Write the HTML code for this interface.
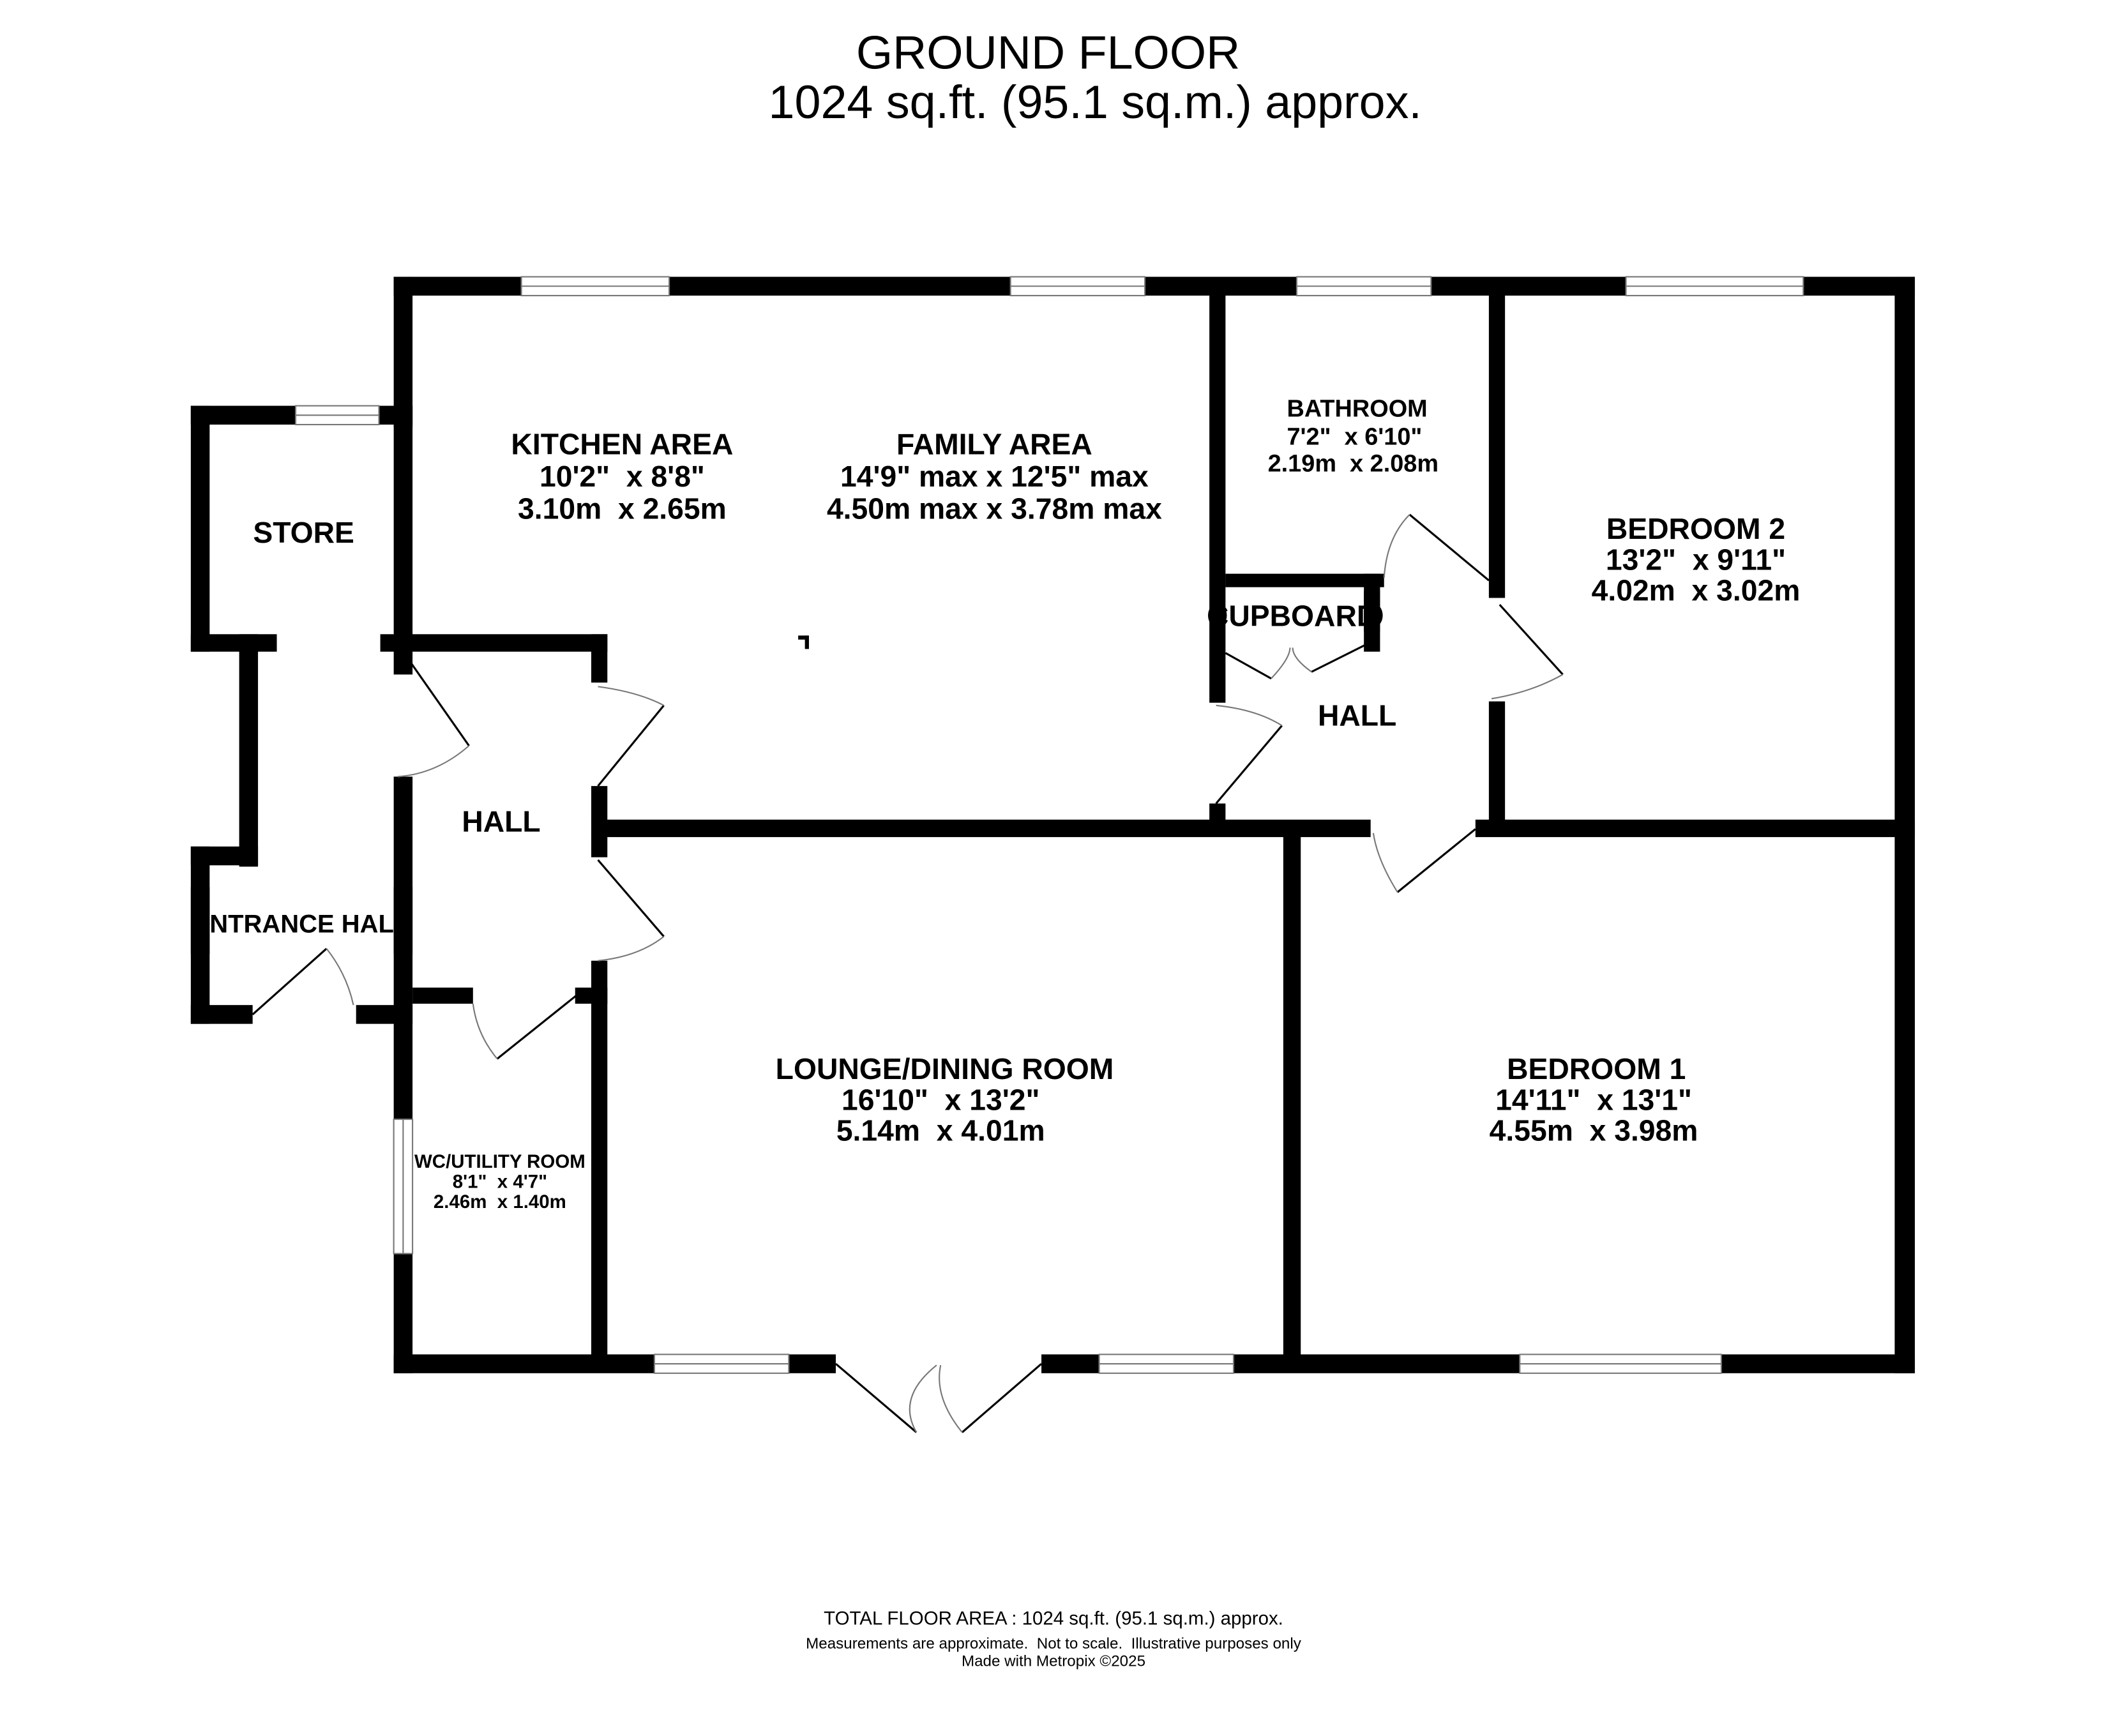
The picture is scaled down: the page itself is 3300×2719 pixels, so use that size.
<!DOCTYPE html>
<html><head><meta charset="utf-8"><style>html,body{margin:0;padding:0;background:#fff}svg{display:block}text{white-space:pre}</style></head><body>
<svg width="3300" height="2719" viewBox="0 0 1568 1292" preserveAspectRatio="none" xmlns="http://www.w3.org/2000/svg" font-family="Liberation Sans, sans-serif">
<rect width="1568" height="1292" fill="#fff"/>
<g fill="#000">
<rect x="293" y="206" width="1132" height="14"/>
<rect x="293" y="206" width="14" height="112"/>
<rect x="142" y="302" width="165" height="14"/>
<rect x="142" y="302" width="14" height="183"/>
<rect x="142" y="472" width="64" height="13"/>
<rect x="178" y="472" width="14" height="173"/>
<rect x="142" y="630" width="50" height="14"/>
<rect x="142" y="630" width="14" height="132"/>
<rect x="142" y="748" width="46" height="14"/>
<rect x="265" y="748" width="42" height="14"/>
<rect x="293" y="302" width="14" height="200"/>
<rect x="283" y="472" width="169" height="13"/>
<rect x="440" y="472" width="12" height="36"/>
<rect x="293" y="578" width="14" height="444"/>
<rect x="440" y="585" width="12" height="53"/>
<rect x="440" y="715" width="12" height="295"/>
<rect x="307" y="735" width="45" height="12"/>
<rect x="428" y="735" width="24" height="12"/>
<rect x="440" y="610" width="580" height="13"/>
<rect x="1098" y="610" width="327" height="13"/>
<rect x="955" y="620" width="13" height="390"/>
<rect x="293" y="1008" width="329" height="14"/>
<rect x="775" y="1008" width="650" height="14"/>
<rect x="1410" y="206" width="15" height="816"/>
<rect x="900" y="220" width="12" height="303"/>
<rect x="900" y="598" width="12" height="22"/>
<rect x="1108" y="220" width="12" height="225"/>
<rect x="1108" y="522" width="12" height="98"/>
<rect x="912" y="427" width="118" height="10"/>
<rect x="1015" y="427" width="12" height="58"/>
<rect x="594" y="473" width="8" height="3"/><rect x="599" y="473" width="3" height="10"/>
</g>
<g fill="#fff" stroke="#777" stroke-width="1">
<rect x="388" y="206" width="110" height="14"/><line x1="388" y1="213" x2="498" y2="213"/>
<rect x="752" y="206" width="100" height="14"/><line x1="752" y1="213" x2="852" y2="213"/>
<rect x="965" y="206" width="100" height="14"/><line x1="965" y1="213" x2="1065" y2="213"/>
<rect x="1210" y="206" width="132" height="14"/><line x1="1210" y1="213" x2="1342" y2="213"/>
<rect x="220" y="302" width="62" height="14"/><line x1="220" y1="309" x2="282" y2="309"/>
<rect x="293" y="833" width="14" height="100"/><line x1="300" y1="833" x2="300" y2="933"/>
<rect x="487" y="1008" width="100" height="14"/><line x1="487" y1="1015" x2="587" y2="1015"/>
<rect x="818" y="1008" width="100" height="14"/><line x1="818" y1="1015" x2="918" y2="1015"/>
<rect x="1131" y="1008" width="150" height="14"/><line x1="1131" y1="1015" x2="1281" y2="1015"/>
</g>
<g fill="none" stroke="#000" stroke-width="1.5">
<line x1="300" y1="485" x2="349" y2="555"/>
<line x1="445" y1="585" x2="494" y2="525"/>
<line x1="445" y1="640" x2="494" y2="697"/>
<line x1="188" y1="755" x2="243" y2="706"/>
<line x1="370" y1="788" x2="430" y2="740"/>
<line x1="622" y1="1015" x2="682" y2="1066"/>
<line x1="775" y1="1015" x2="716" y2="1066"/>
<line x1="905" y1="598" x2="954" y2="540"/>
<line x1="1040" y1="664" x2="1098" y2="617"/>
<line x1="1049" y1="383" x2="1108" y2="432"/>
<line x1="1116" y1="450" x2="1163" y2="502"/>
<line x1="912" y1="486" x2="946" y2="505"/>
<line x1="1018" y1="479" x2="976" y2="500"/>
</g>
<g fill="none" stroke="#777" stroke-width="1">
<path d="M296 578 Q325 576 349 555"/>
<path d="M445 511 Q475 515 494 525"/>
<path d="M445 715 Q475 712 494 697"/>
<path d="M243 706 Q258 725 263 748"/>
<path d="M370 788 Q355 770 352 747"/>
<path d="M682 1066 Q667 1040 697 1016"/>
<path d="M716 1066 Q695 1040 700 1016"/>
<path d="M905 525 Q935 528 954 540"/>
<path d="M1040 664 Q1025 640 1022 620"/>
<path d="M1049 383 Q1032 400 1030 430"/>
<path d="M1163 502 Q1140 515 1110 520"/>
<path d="M946 505 Q960 490 960 482"/>
<path d="M976 500 Q962 490 962 482"/>
</g>
<g text-anchor="middle" font-weight="bold" font-size="22">
<text x="226" y="404">STORE</text>
<text x="463" y="338">KITCHEN AREA</text><text x="463" y="362">10'2"  x 8'8"</text><text x="463" y="386">3.10m  x 2.65m</text>
<text x="740" y="338">FAMILY AREA</text><text x="740" y="362">14'9" max x 12'5" max</text><text x="740" y="386">4.50m max x 3.78m max</text>
<text x="1010" y="310" font-size="18">BATHROOM</text><text x="1008" y="331" font-size="18">7'2"  x 6'10"</text><text x="1007" y="351" font-size="18">2.19m  x 2.08m</text>
<text x="1262" y="401">BEDROOM 2</text><text x="1262" y="424">13'2"  x 9'11"</text><text x="1262" y="447">4.02m  x 3.02m</text>
<text x="962" y="466">CUPBOARD</text>
<text x="1010" y="540">HALL</text>
<text x="373" y="619">HALL</text>
<text x="224" y="694" font-size="19">ENTRANCE HALL</text>
<text x="703" y="803">LOUNGE/DINING ROOM</text><text x="700" y="826">16'10"  x 13'2"</text><text x="700" y="849">5.14m  x 4.01m</text>
<text x="1188" y="803">BEDROOM 1</text><text x="1186" y="826">14'11"  x 13'1"</text><text x="1186" y="849">4.55m  x 3.98m</text>
<text x="372" y="869" font-size="14">WC/UTILITY ROOM</text><text x="372" y="884" font-size="14">8'1"  x 4'7"</text><text x="372" y="899" font-size="14">2.46m  x 1.40m</text>
</g>
<rect x="142" y="660" width="14" height="50" fill="#000"/>
<rect x="293" y="660" width="14" height="50" fill="#000"/>
<ellipse cx="906" cy="458" rx="7" ry="9" fill="#000"/>
<ellipse cx="1022" cy="458" rx="7" ry="9" fill="#000"/>
<rect x="1015" y="440" width="12" height="30" fill="#000"/>
<g text-anchor="middle" font-size="35">
<text x="780" y="51">GROUND FLOOR</text>
<text x="815" y="88">1024 sq.ft. (95.1 sq.m.) approx.</text>
</g>
<g text-anchor="middle" font-size="14">
<text x="784" y="1209">TOTAL FLOOR AREA : 1024 sq.ft. (95.1 sq.m.) approx.</text>
<text x="784" y="1227" font-size="11.5">Measurements are approximate.  Not to scale.  Illustrative purposes only</text>
<text x="784" y="1240" font-size="11.5">Made with Metropix ©2025</text>
</g>
</svg>
</body></html>
